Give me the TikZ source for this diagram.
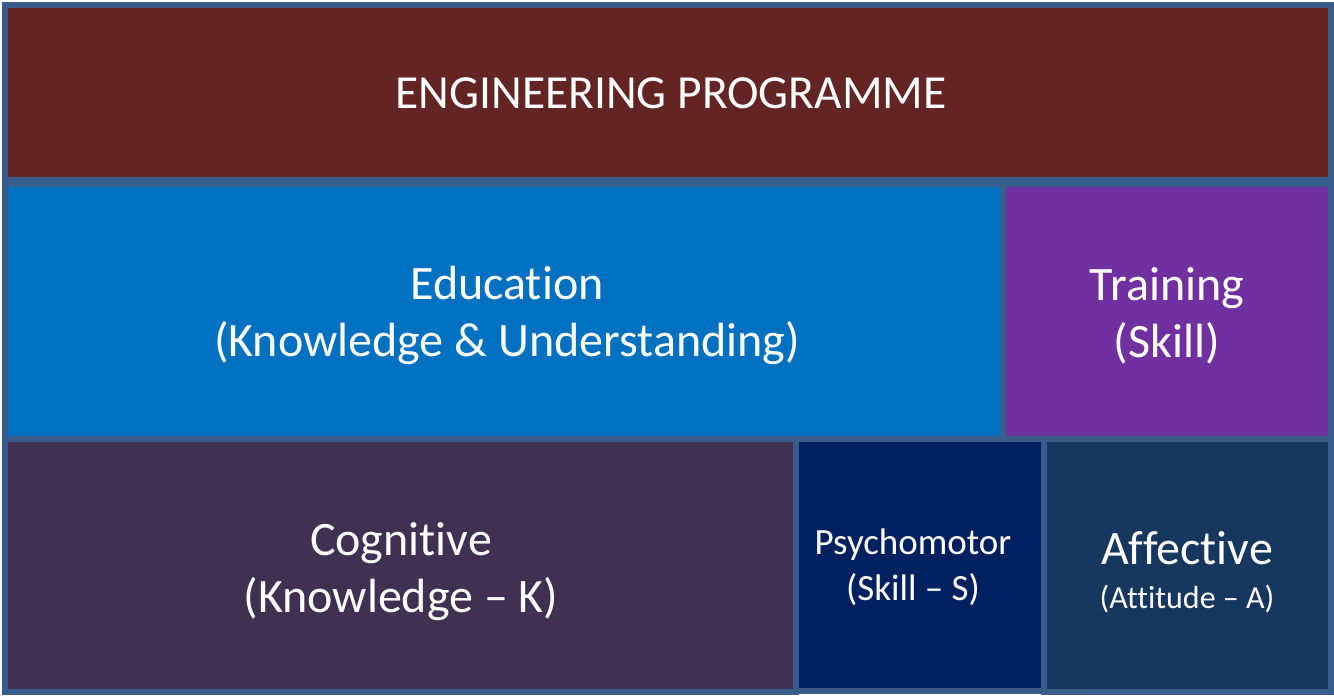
\documentclass[tikz,border=0pt]{standalone}
\usepackage{fontspec}
\setmainfont{Carlito}[Ligatures=NoCommon]
\definecolor{progred}{HTML}{632523}
\definecolor{edublue}{HTML}{0070C0}
\definecolor{trainpurple}{HTML}{7030A0}
\definecolor{cogpurple}{HTML}{403152}
\definecolor{psynavy}{HTML}{002060}
\definecolor{affblue}{HTML}{17375E}
\definecolor{edgeblue}{HTML}{385D8A}
\tikzset{
  box/.style={draw=edgeblue, line width=6pt},
  boxtext/.style={text=white, align=center, inner sep=0pt}
}
\begin{document}
\begin{tikzpicture}[x=1pt,y=-1pt]
    \useasboundingbox (0,0) rectangle (1334,696);
    \draw[box, fill=progred] (5,5) rectangle (1331,180);
    \draw[box, fill=edublue] (5,184) rectangle (1003,438.5);
    \draw[box, fill=trainpurple] (1003,184) rectangle (1331,438.5);
    \draw[box, fill=cogpurple] (5,438.5) rectangle (796,692);
    \draw[box, fill=psynavy] (796,438.5) rectangle (1044,691);
    \draw[box, fill=affblue] (1044,438.5) rectangle (1331,692);
    \node[boxtext, font=\fontsize{47.5}{56}\selectfont] (prog) at (671,93) {ENGINEERING PROGRAMME};
    \node[boxtext, font=\fontsize{48}{57}\selectfont] (edu) at (507,315.5) {Education\\(Knowledge \& Understanding)};
    \node[boxtext, font=\fontsize{48}{57}\selectfont] (train) at (1167,315.5) {Training\\(Skill)};
    \node[boxtext, font=\fontsize{48}{57}\selectfont] (cog) at (401,572) {Cognitive\\(Knowledge -- K)};
    \node[boxtext, font=\fontsize{37}{46}\selectfont] (psy) at (913,567) {Psychomotor\\(Skill -- S)};
    \node[boxtext, font=\fontsize{48}{44}\selectfont] (aff) at (1187,572) {Affective\\{\fontsize{32}{38}\selectfont (Attitude -- A)}};
\end{tikzpicture}
\end{document}
